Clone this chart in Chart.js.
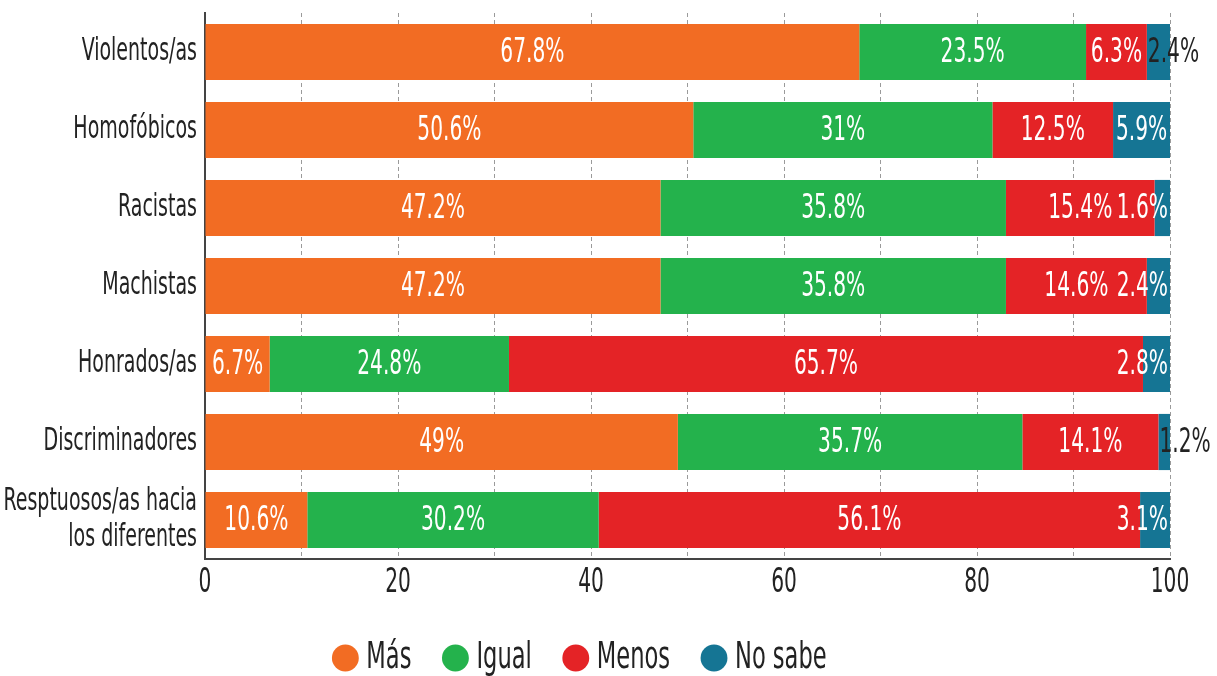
<!DOCTYPE html>
<html>
<head>
<meta charset="utf-8">
<script src="https://cdn.jsdelivr.net/npm/chart.js@4"></script>
<style>
  body { margin: 0; background: #fff; }
</style>
</head>
<body>
<canvas id="chart" width="1217" height="676"></canvas>
<script>
const categorias = [
  "Violentos/as",
  "Homofóbicos",
  "Racistas",
  "Machistas",
  "Honrados/as",
  "Discriminadores",
  ["Resptuosos/as hacia", "los diferentes"]
];
const mas    = [67.8, 50.6, 47.2, 47.2, 6.7, 49, 10.6];
const igual  = [23.5, 31, 35.8, 35.8, 24.8, 35.7, 30.2];
const menos  = [6.3, 12.5, 15.4, 14.6, 65.7, 14.1, 56.1];
const noSabe = [2.4, 5.9, 1.6, 2.4, 2.8, 1.2, 3.1];
const xTicks = [0, 20, 40, 60, 80, 100];

const FONT = "'DejaVu Sans Condensed', 'DejaVu Sans', sans-serif";
const ESTRECHO = 0.66;

// el original usa una letra muy estrecha: se estrecha todo el texto del canvas
const canvas = document.getElementById("chart");
const c2d = canvas.getContext("2d");
const fillTextOrig = c2d.fillText.bind(c2d);
const measureOrig = c2d.measureText.bind(c2d);
c2d.fillText = function (t, x, y, maxW) {
  this.save();
  this.translate(x, y);
  this.scale(ESTRECHO, 1);
  fillTextOrig(t, 0, 0);
  this.restore();
};
c2d.measureText = function (t) {
  const m = measureOrig(t);
  return {
    width: m.width * ESTRECHO,
    actualBoundingBoxAscent: m.actualBoundingBoxAscent,
    actualBoundingBoxDescent: m.actualBoundingBoxDescent
  };
};

// etiquetas dentro de las barras
const etiquetas = {
  id: "etiquetas",
  afterDatasetsDraw(chart) {
    const ctx = chart.ctx;
    const finPrevio = {};
    ctx.save();
    ctx.font = "34px " + FONT;
    ctx.textBaseline = "middle";
    ctx.textAlign = "left";
    chart.data.datasets.forEach((ds, di) => {
      const meta = chart.getDatasetMeta(di);
      meta.data.forEach((bar, i) => {
        const { x, base, y } = bar.getProps(["x", "base", "y"], true);
        const txt = ds.data[i] + "%";
        const w = ctx.measureText(txt).width;
        const seg = x - base;
        let left, color = "#fff";
        if (w <= seg - 4) {
          left = (x + base) / 2 - w / 2;
        } else {
          left = x - 2 - w;
          if (finPrevio[i] !== undefined && left < finPrevio[i] + 4) {
            left = base + 1;
            color = "#222";
          }
        }
        ctx.fillStyle = color;
        ctx.fillText(txt, left, y + 1);
        finPrevio[i] = left + w;
      });
    });
    ctx.restore();
  }
};

new Chart(canvas, {
  type: "bar",
  data: {
    labels: categorias,
    datasets: [
      { label: "Más", data: mas, backgroundColor: "#f26c23" },
      { label: "Igual", data: igual, backgroundColor: "#24b24c" },
      { label: "Menos", data: menos, backgroundColor: "#e42326" },
      { label: "No sabe", data: noSabe, backgroundColor: "#157594" }
    ]
  },
  options: {
    indexAxis: "y",
    responsive: false,
    animation: false,
    devicePixelRatio: 1,
    categoryPercentage: 0.72,
    barPercentage: 1,
    layout: { padding: { top: 13, right: 47, left: 0, bottom: -11 } },
    scales: {
      x: {
        stacked: true,
        min: 0,
        max: 100,
        afterFit: s => { s.height = 38; },
        ticks: {
          stepSize: 10,
          autoSkip: false,
          maxRotation: 0,
          padding: 0,
          color: "#222",
          font: { family: FONT, size: 34 },
          callback: v => xTicks.includes(v) ? v : ""
        },
        grid: {
          color: "#9a9a9a",
          lineWidth: 1,
          tickLength: 4,
          tickColor: "rgba(0,0,0,0)"
        },
        border: { color: "#444", width: 2, dash: [4, 3] }
      },
      y: {
        stacked: true,
        afterFit: s => {
          s.width = 205;
          s.paddingTop = 0;
          s.paddingBottom = 0;
        },
        grid: { display: false },
        border: { color: "#444", width: 2 },
        ticks: {
          autoSkip: false,
          padding: 0,
          color: "#222",
          font: { family: FONT, size: 32, lineHeight: 1.12 }
        }
      }
    },
    plugins: {
      tooltip: { enabled: false },
      legend: {
        position: "bottom",
        labels: {
          usePointStyle: true,
          pointStyle: "circle",
          boxWidth: 4,
          boxHeight: 19,
          padding: 42,
          color: "#222",
          font: { family: FONT, size: 38 }
        }
      }
    }
  },
  plugins: [etiquetas]
});
</script>
</body>
</html>
